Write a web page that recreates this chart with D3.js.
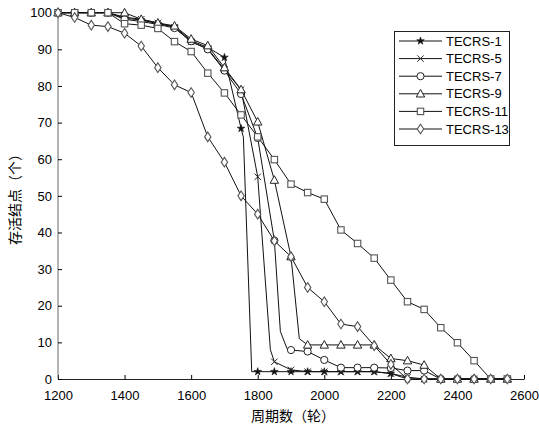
<!DOCTYPE html>
<meta charset="utf-8">
<style>
  body { margin: 0; background: #fff; }
  text { font-family: 'Liberation Sans', Arial, sans-serif; fill: #000; }
  .cjk { font-family: 'Noto Sans CJK SC', sans-serif; }
</style>
<body>
<script src="https://cdn.jsdelivr.net/npm/d3@7"></script>
<script>

// cycles where the markers sit
var cycles = [1200, 1250, 1300, 1350, 1400, 1450, 1500, 1550, 1600, 1650, 1700, 1750, 1800, 1850,
              1900, 1950, 2000, 2050, 2100, 2150, 2200, 2250, 2300, 2350, 2400, 2450, 2500, 2550];

// surviving nodes, one value per marker cycle
var tecrs1  = [100, 100, 100, 100, 98.5, 98, 97, 96.2, 92.4, 90.5, 87.8, 68.4, 2, 2,
               2, 2, 2, 2, 2, 2, 1.5, 0, 0, 0, 0, 0, 0, 0];
var tecrs5  = [100, 100, 100, 100, 98.8, 98.2, 97.2, 96, 92, 90.2, 84.5, 79, 55.2, 4.7,
               2.5, 2, 2, 2, 2, 2, 1.5, 0.5, 0, 0, 0, 0, 0, 0];
var tecrs7  = [100, 100, 100, 100, 98.2, 97.6, 96.8, 95.8, 92.2, 90, 84.2, 77.8, 65.8, 37.8,
               7.9, 7.5, 5.2, 3.1, 3.1, 3.1, 3, 2.3, 2.3, 0, 0, 0, 0, 0];
var tecrs9  = [100, 100, 100, 100, 100, 98.2, 97.2, 96.4, 92.8, 91, 85, 79, 70.2, 54.3,
               33.4, 9.3, 9.3, 9.3, 9.3, 9.3, 5.6, 5, 3.8, 0, 0, 0, 0, 0];
var tecrs11 = [100, 100, 100, 100, 97, 96.6, 95.7, 92.1, 89.4, 83.5, 78.1, 72.1, 66.1, 59.9,
               53.2, 50.9, 49.1, 40.7, 37, 33, 27, 21.1, 19, 14, 9.9, 5, 0, 0];
var tecrs13 = [100, 98.7, 96.6, 96.2, 94.4, 90.9, 85, 80.3, 78.2, 66.1, 59.2, 50, 45, 37.7,
               33.4, 25, 21.1, 15, 14.3, 9.1, 4, 0, 0, 0, 0, 0, 0, 0];

// extra corners of the steep drops (no marker on them)
var tecrs1Drop = [[1757, 66], [1782, 2]];
var tecrs5Drop = [[1838, 8]];
var tecrs7Drop = [[1868, 13], [1888, 8.3]];
var tecrs9Drop = [[1925, 11]];

var names = ["TECRS-1", "TECRS-5", "TECRS-7", "TECRS-9", "TECRS-11", "TECRS-13"];
var xTicks = [1200, 1400, 1600, 1800, 2000, 2200, 2400, 2600];
var yTicks = [0, 10, 20, 30, 40, 50, 60, 70, 80, 90, 100];

var width = 539, height = 429;

var x = d3.scaleLinear().domain([1200, 2600]).range([58, 524]);
var y = d3.scaleLinear().domain([0, 100]).range([379, 12.7]);

var svg = d3.select("body").append("svg")
    .attr("width", width)
    .attr("height", height);

// marker shapes
function marker(g, kind) {
  if (kind == "star") {
    g.append("path").attr("d", d3.symbol().type(d3.symbolStar).size(18)())
      .attr("fill", "#111").attr("stroke", "#111").attr("stroke-width", 0.6);
  } else if (kind == "x") {
    g.append("path").attr("d", "M-3.2,-3.2L3.2,3.2M-3.2,3.2L3.2,-3.2")
      .attr("fill", "none").attr("stroke", "#222").attr("stroke-width", 1);
  } else if (kind == "circle") {
    g.append("circle").attr("r", 3.6)
      .attr("fill", "#fff").attr("stroke", "#222").attr("stroke-width", 1);
  } else if (kind == "triangle") {
    g.append("path").attr("d", "M0,-4.4L4.2,3.2L-4.2,3.2Z")
      .attr("fill", "#fff").attr("stroke", "#222").attr("stroke-width", 1);
  } else if (kind == "square") {
    g.append("rect").attr("x", -3.2).attr("y", -3.2).attr("width", 6.4).attr("height", 6.4)
      .attr("fill", "#fff").attr("stroke", "#555").attr("stroke-width", 1.1);
  } else if (kind == "diamond") {
    g.append("path").attr("d", "M0,-4.8L3.2,0L0,4.8L-3.2,0Z")
      .attr("fill", "#fff").attr("stroke", "#555").attr("stroke-width", 1.1);
  }
}

var series = [
  {name: names[0], values: tecrs1,  extra: tecrs1Drop, kind: "star"},
  {name: names[1], values: tecrs5,  extra: tecrs5Drop, kind: "x"},
  {name: names[2], values: tecrs7,  extra: tecrs7Drop, kind: "circle"},
  {name: names[3], values: tecrs9,  extra: tecrs9Drop, kind: "triangle"},
  {name: names[4], values: tecrs11, extra: [],         kind: "square"},
  {name: names[5], values: tecrs13, extra: [],         kind: "diamond"}
];

// axes
var xAxis = svg.append("g")
    .attr("transform", "translate(0," + y(0) + ")")
    .call(d3.axisBottom(x).tickValues(xTicks).tickFormat(d3.format("d"))
      .tickSizeInner(-4).tickSizeOuter(0).tickPadding(12));
xAxis.select(".domain").attr("stroke", "#222");
xAxis.selectAll("text").attr("font-size", "13px");

var yAxis = svg.append("g")
    .attr("transform", "translate(" + x(1200) + ",0)")
    .call(d3.axisLeft(y).tickValues(yTicks).tickFormat(d3.format("d"))
      .tickSizeInner(-4).tickSizeOuter(0).tickPadding(6));
yAxis.select(".domain").attr("stroke", "#666").attr("d", "M0," + y(0) + "V" + (y(100) - 3));
yAxis.selectAll("text").attr("font-size", "13px");

var line = d3.line()
    .x(function(d) { return x(d[0]); })
    .y(function(d) { return y(d[1]); });

series.forEach(function(s) {
  var pts = cycles.map(function(c, i) { return [c, s.values[i]]; });
  var all = pts.concat(s.extra).sort(function(a, b) { return a[0] - b[0]; });
  svg.append("path")
      .datum(all)
      .attr("fill", "none")
      .attr("stroke", "#111")
      .attr("stroke-width", 1)
      .attr("d", line);
  pts.forEach(function(p) {
    var g = svg.append("g").attr("transform", "translate(" + x(p[0]) + "," + y(p[1]) + ")");
    marker(g, s.kind);
  });
});

// legend
var legend = svg.append("g");
legend.append("rect")
    .attr("x", 394.5).attr("y", 31.5).attr("width", 115).attr("height", 114)
    .attr("fill", "#fff").attr("stroke", "#222").attr("stroke-width", 1);
series.forEach(function(s, i) {
  var ly = 41 + i * 17.6;
  legend.append("line").attr("x1", 399).attr("x2", 442).attr("y1", ly).attr("y2", ly)
      .attr("stroke", "#111").attr("stroke-width", 1);
  var g = legend.append("g").attr("transform", "translate(420.5," + ly + ")");
  marker(g, s.kind);
  legend.append("text").attr("x", 446).attr("y", ly + 4.6)
      .attr("font-size", "13px").text(s.name);
});

// axis titles
svg.append("text")
    .attr("class", "cjk")
    .attr("x", 293).attr("y", 421)
    .attr("text-anchor", "middle")
    .attr("font-size", "14px")
    .text("周期数（轮）");

svg.append("text")
    .attr("class", "cjk")
    .attr("transform", "translate(20,196) rotate(-90)")
    .attr("text-anchor", "middle")
    .attr("font-size", "14px")
    .text("存活结点（个）");

</script>
</body>
